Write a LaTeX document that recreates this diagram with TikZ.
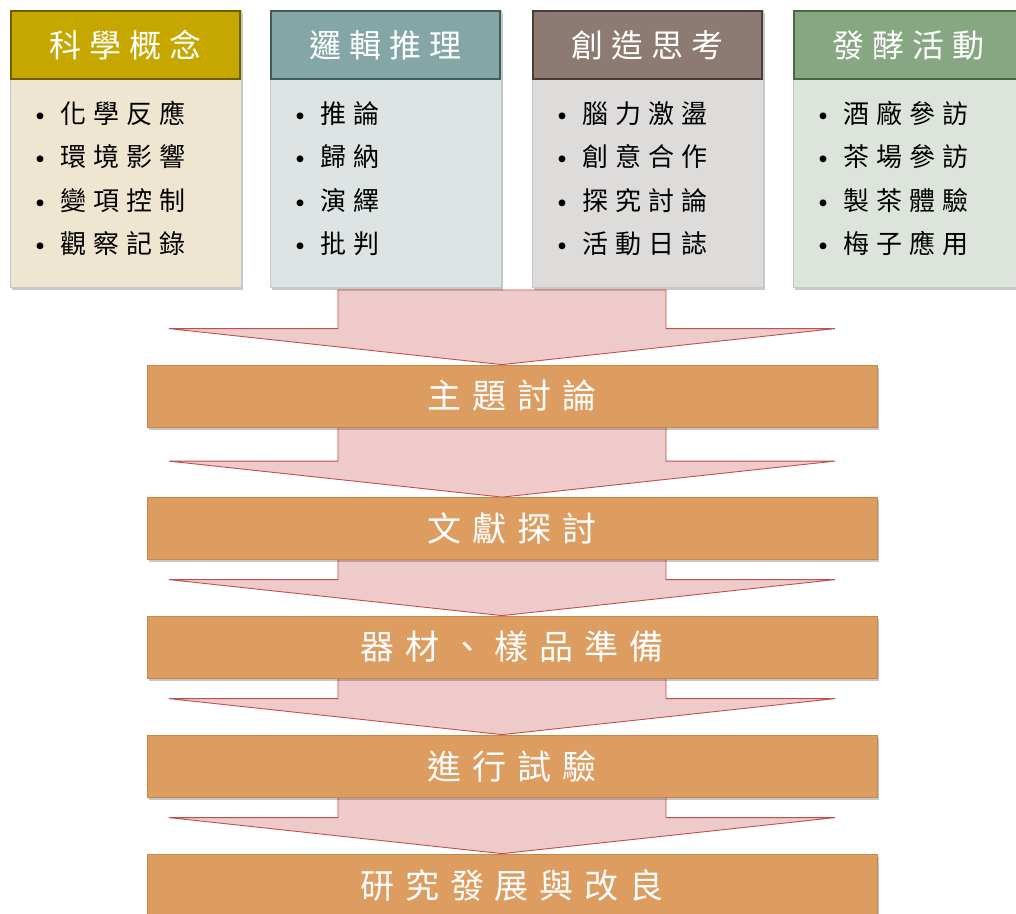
\documentclass[tikz,border=0pt]{standalone}
\usepackage{fontspec}
\newfontfamily\cjkhead[LetterSpace=25]{Noto Sans CJK TC}
\newfontfamily\cjkbody[LetterSpace=27]{Noto Sans CJK TC}
\newfontfamily\cjkbar[LetterSpace=32]{Noto Sans CJK TC}
\newfontfamily\cjkdot{Noto Sans CJK TC}
\usetikzlibrary{calc,shadows,backgrounds}
\pgfdeclarelayer{paper}
\pgfsetlayers{paper,background,main}
\definecolor{goldH}{HTML}{C6A700}
\definecolor{goldD}{HTML}{6E6000}
\definecolor{goldB}{HTML}{EEE6D0}
\definecolor{tealH}{HTML}{84A6A6}
\definecolor{tealD}{HTML}{3F5B5B}
\definecolor{tealB}{HTML}{DEE3E3}
\definecolor{taupeH}{HTML}{8D7B73}
\definecolor{taupeD}{HTML}{4A3C36}
\definecolor{taupeB}{HTML}{DEDCDB}
\definecolor{sageH}{HTML}{87A783}
\definecolor{sageD}{HTML}{486745}
\definecolor{sageB}{HTML}{DDE4DC}
\definecolor{arrowF}{HTML}{EFCACA}
\definecolor{arrowD}{HTML}{C0504D}
\definecolor{barF}{HTML}{DD9C60}
\definecolor{barD}{HTML}{C98646}
\tikzset{
  shad/.style={drop shadow={shadow xshift=1.5pt, shadow yshift=-2.5pt, fill=black, opacity=0.22}},
  bodybox/.style={shad, draw=black!22, line width=0.6pt, minimum width=231pt, minimum height=277pt, inner sep=0pt},
  headbox/.style={line width=1.2pt, minimum width=229pt, minimum height=68pt, inner sep=0pt, text=white, font=\cjkhead\fontsize{32}{38}\selectfont},
  item/.style={anchor=base west, inner sep=0pt, text=black, font=\cjkbody\fontsize{26}{30}\selectfont},
  barbox/.style={shad, fill=barF, draw=barD, line width=0.8pt, minimum width=730pt, minimum height=62pt, inner sep=0pt, text=white, font=\cjkbar\fontsize{34}{40}\selectfont},
  blockarrow/.style={fill=arrowF, draw=arrowD, line width=0.9pt, line join=miter}
}
\newcommand\bulletmark{\llap{\makebox[40pt][c]{\raisebox{-5pt}{\cjkdot\fontsize{32}{32}\selectfont •}}}}
\begin{document}
\begin{tikzpicture}[x=1pt,y=-1pt]
\useasboundingbox (0,0) rectangle (1016,913);
\clip (0,0) rectangle (1016,913);
\begin{pgfonlayer}{paper}
\fill[white] (0,0) rectangle (1016,913);
\end{pgfonlayer}
% category boxes
\node[bodybox, fill=goldB]  (box1) at (125.5,148.5) {};
\node[bodybox, fill=tealB]  (box2) at (385.5,148.5) {};
\node[bodybox, fill=taupeB] (box3) at (647.5,148.5) {};
\node[bodybox, fill=sageB]  (box4) at (908.5,148.5) {};
\node[headbox, fill=goldH,  draw=goldD]  (head1) at (125.5,45) {科學概念};
\node[headbox, fill=tealH,  draw=tealD]  (head2) at (385.5,45) {邏輯推理};
\node[headbox, fill=taupeH, draw=taupeD] (head3) at (647.5,45) {創造思考};
\node[headbox, fill=sageH,  draw=sageD]  (head4) at (908.5,45) {發酵活動};
\foreach \L/\n/\items in {10/1/{化學反應,環境影響,變項控制,觀察記錄},270/2/{推論,歸納,演繹,批判},532/3/{腦力激盪,創意合作,探究討論,活動日誌},793/4/{酒廠參訪,茶場參訪,製茶體驗,梅子應用}}{
  \foreach \t [count=\k] in \items {
    \node[item] (it\n-\k) at (\L+50, 123+43.5*\k-43.5) {\bulletmark\t};
  }
}
% process bars
\node[barbox] (bar1) at (512,396)   {主題討論};
\node[barbox] (bar2) at (512,528.5) {文獻探討};
\node[barbox] (bar3) at (512,647)   {器材、樣品準備};
\node[barbox] (bar4) at (512,766)   {進行試驗};
\node[barbox] (bar5) at (512,885)   {研究發展與改良};
% arrow start / tip coordinates
\coordinate (s1) at (502,290);
\coordinate (s2) at ($(bar1.south)+(-10,-6)$);
\coordinate (s3) at ($(bar2.south)+(-10,-6)$);
\coordinate (s4) at ($(bar3.south)+(-10,-6)$);
\coordinate (s5) at ($(bar4.south)+(-10,-6)$);
\foreach \i in {1,...,5}{
  \coordinate (t\i) at ($(bar\i.north)+(-10,0)$);
}
\begin{pgfonlayer}{background}
\foreach \i in {1,...,5}{
  \draw[blockarrow] ($(s\i)+(-164,0)$) |- ($(t\i)+(-333,-36)$) -- (t\i) -- ($(t\i)+(333,-36)$) -| ($(s\i)+(164,0)$) -- cycle;
}
\end{pgfonlayer}
\end{tikzpicture}
\end{document}
